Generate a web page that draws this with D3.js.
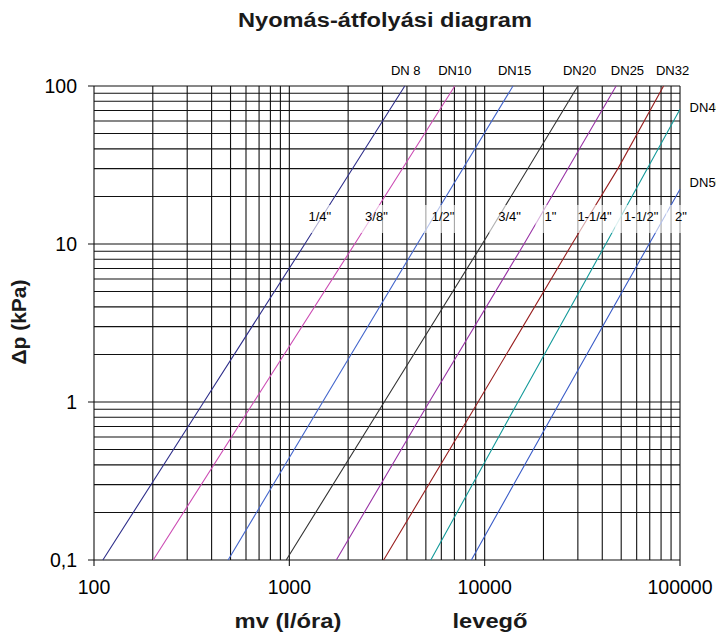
<!DOCTYPE html>
<html lang="hu">
<head>
  <meta charset="UTF-8">
  <title>Nyomás-átfolyási diagram</title>
  <style>
    body { margin: 0; background: #ffffff; }
    svg { display: block; font-family: 'Liberation Sans', Arial, sans-serif; }
    .grid line { stroke: #111; stroke-width: 1.1; }
    .curve { fill: none; stroke-width: 1.1; }
  </style>
  <script src="https://d3js.org/d3.v7.min.js"></script>
</head>
<body>
  <div id="chart"></div>
  <script>
    // tengelyek
    const xTicks = [100, 1000, 10000, 100000];
    const xTickLabels = ['100', '1000', '10000', '100000'];
    const yTicks = [0.1, 1, 10, 100];
    const yTickLabels = ['0,1', '1', '10', '100'];

    // görbék: [mv (l/óra), Δp (kPa)]
    const dn8  = [[111, 0.1], [365, 1], [1200, 10], [3900, 100]];
    const dn10 = [[201, 0.1], [658, 1], [2160, 10], [7030, 100]];
    const dn15 = [[486, 0.1], [1480, 1], [4520, 10], [13960, 100]];
    const dn20 = [[964, 0.1], [3060, 1], [9720, 10], [30000, 100]];
    const dn25 = [[1740, 0.1], [5200, 1], [15900, 10], [47100, 100]];
    const dn32 = [[3040, 0.1], [9250, 1], [28000, 10], [48100, 30], [82400, 100]];
    const dn40 = [[5300, 0.1], [14800, 1], [41700, 10], [100000, 71.3]];
    const dn50 = [[8550, 0.1], [24300, 1], [69500, 10], [100000, 22.2]];

    const dnNames = ['DN 8', 'DN10', 'DN15', 'DN20', 'DN25', 'DN32', 'DN40', 'DN50'];
    const inchNames = ['1/4"', '3/8"', '1/2"', '3/4"', '1"', '1-1/4"', '1-1/2"', '2"'];
    const colors = ['#2e2e8a', '#cc4cb4', '#4466cc', '#333333', '#9933a6', '#992020', '#139a9a', '#3a5cc8'];

    // feliratok helye (adategységben)
    const dnLabelPos = [[3945, 126], [7030, 126], [14230, 126], [30600, 126], [53850, 126], [91600, 126], [112000, 74], [112000, 24.8]];
    const inchLabelPos = [[1432, 15], [2793, 15], [6120, 15], [13420, 15], [21700, 15], [36500, 15], [63300, 15], [101000, 15]];

    const series = [dn8, dn10, dn15, dn20, dn25, dn32, dn40, dn50];

    const W = 716, H = 637;
    const M = { left: 94, right: 680, top: 86, bottom: 560 };

    const svg = d3.select('#chart').append('svg')
      .attr('width', W).attr('height', H);

    const x = d3.scaleLog().domain([100, 100000]).range([M.left, M.right]);
    const y = d3.scaleLog().domain([0.1, 100]).range([M.bottom, M.top]);

    // rács
    const grid = svg.append('g').attr('class', 'grid');
    grid.selectAll('.vx').data(x.ticks()).join('line')
      .attr('x1', d => x(d)).attr('x2', d => x(d))
      .attr('y1', M.top).attr('y2', d => xTicks.includes(d) ? M.bottom + 6 : M.bottom);
    grid.selectAll('.hy').data(y.ticks()).join('line')
      .attr('y1', d => y(d)).attr('y2', d => y(d))
      .attr('x1', d => yTicks.includes(d) ? M.left - 6 : M.left).attr('x2', M.right);

    // görbék
    const line = d3.line().x(d => x(d[0])).y(d => y(d[1]));
    svg.append('g').selectAll('path').data(series).join('path')
      .attr('class', 'curve')
      .attr('stroke', (d, i) => colors[i])
      .attr('d', line);

    // col feliratok fehér háttérrel
    const inch = svg.append('g').attr('font-size', 13).attr('fill', '#000');
    inchLabelPos.forEach((p, i) => {
      const g = inch.append('g');
      const r = g.append('rect').attr('fill', '#fff').attr('opacity', 0.62);
      const t = g.append('text')
        .attr('x', x(p[0])).attr('y', y(p[1]) + 5)
        .attr('text-anchor', 'middle')
        .text(inchNames[i]);
      const w = t.node().getComputedTextLength();
      r.attr('x', x(p[0]) - w / 2 - 9).attr('width', w + 18)
        .attr('y', 205).attr('height', 28);
    });

    // DN feliratok (a DN40 / DN50 a képszélen levágva, mint az eredetin)
    svg.append('g').attr('font-size', 13)
      .selectAll('text').data(dnLabelPos).join('text')
      .attr('x', d => x(d[0])).attr('y', d => y(d[1]) + 5)
      .attr('text-anchor', (d, i) => i < 6 ? 'middle' : 'start')
      .text((d, i) => dnNames[i]);

    // tengelyfeliratok
    svg.append('g').attr('font-size', 19.5)
      .selectAll('text').data(xTicks).join('text')
      .attr('x', d => x(d)).attr('y', 594)
      .attr('text-anchor', 'middle')
      .text((d, i) => xTickLabels[i]);
    svg.append('g').attr('font-size', 19.5)
      .selectAll('text').data(yTicks).join('text')
      .attr('x', 77).attr('y', d => y(d) + 7)
      .attr('text-anchor', 'end')
      .text((d, i) => yTickLabels[i]);

    // címek
    function boldText(txt, len) {
      return svg.append('text')
        .attr('text-anchor', 'middle').attr('font-weight', 'bold').attr('font-size', 19.5)
        .attr('fill', '#1a1a1a')
        .attr('textLength', len).attr('lengthAdjust', 'spacingAndGlyphs')
        .text(txt);
    }
    boldText('Nyomás-átfolyási diagram', 294).attr('x', 385).attr('y', 27);
    boldText('mv (l/óra)', 107).attr('x', 288).attr('y', 628);
    boldText('levegő', 75).attr('x', 490).attr('y', 628);
    boldText('Δp (kPa)', 85).attr('transform', 'translate(26,322) rotate(-90)');
  </script>
</body>
</html>
